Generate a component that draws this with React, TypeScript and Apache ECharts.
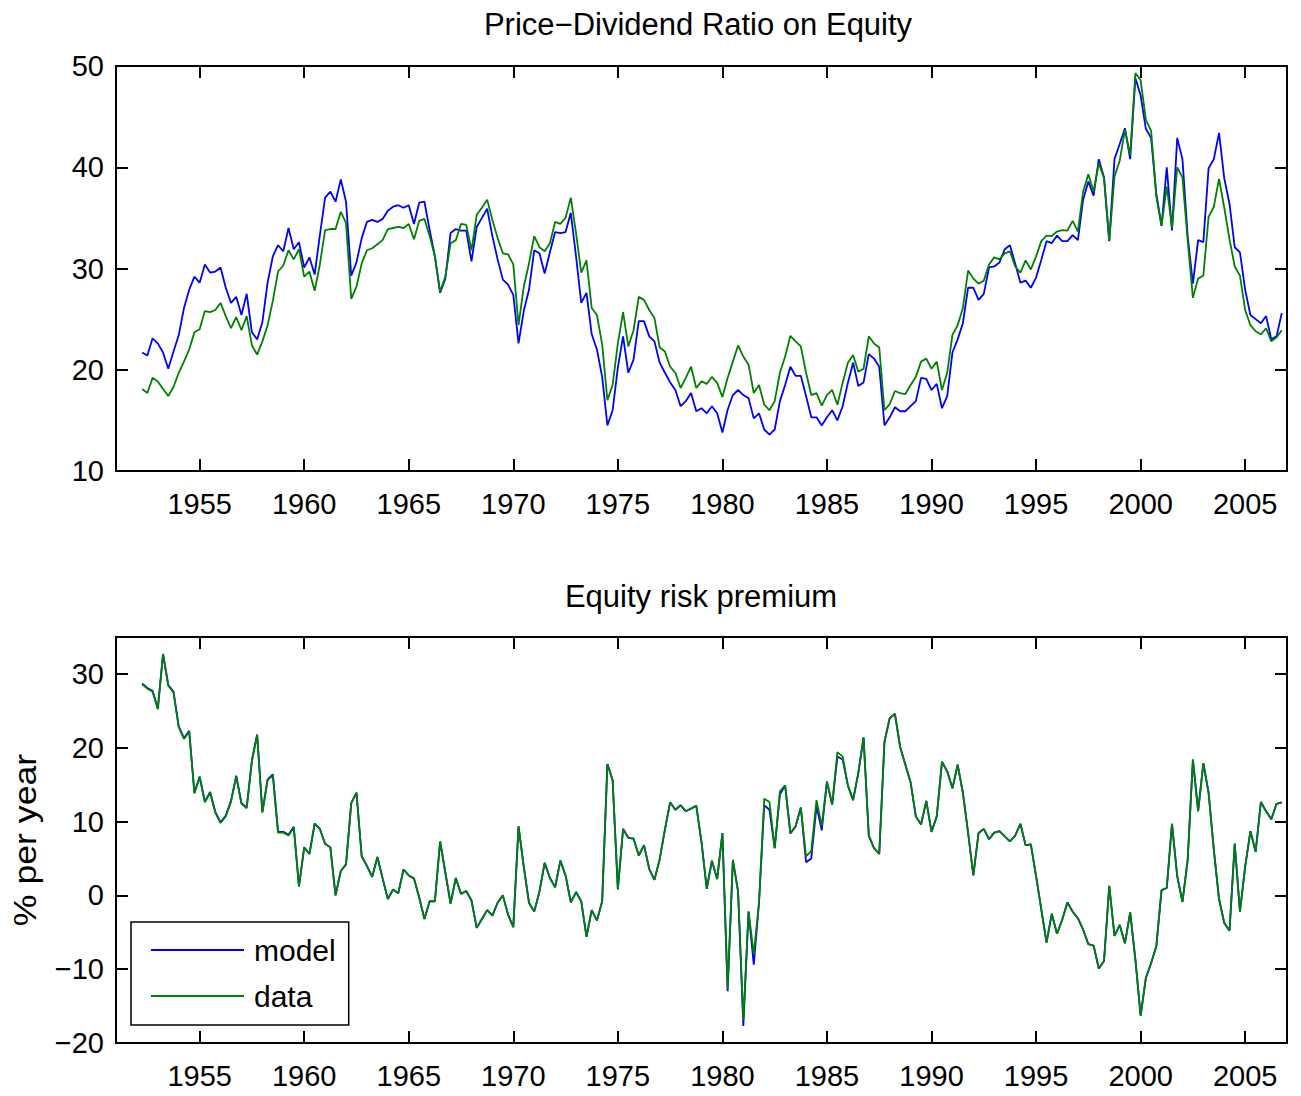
import React, { useEffect, useRef } from "react";
import * as echarts from "echarts";

const FIRST_QUARTER = 1952.25;
const QUARTER = 0.25;
const FONT = "'Liberation Sans', Arial, Helvetica, sans-serif";

const tickYears = [1955, 1960, 1965, 1970, 1975, 1980, 1985, 1990, 1995, 2000, 2005];
const pdTicks = [10, 20, 30, 40, 50];
const erpTicks = [-20, -10, 0, 10, 20, 30];
const seriesNames = ["model", "data"];

// Price-dividend ratio, quarterly from 1952Q2
const pdModel = [
  21.7, 21.4, 23.1, 22.6, 21.7, 20.1, 21.8, 23.4, 26.1, 27.9, 29.2, 28.6, 30.4, 29.6, 29.7, 30.1, 28.1, 26.6, 27.2, 25.4,
  27.5, 23.7, 23.0, 24.7, 28.6, 31.2, 32.3, 31.7, 34.0, 31.9, 32.6, 30.1, 31.1, 29.4, 33.3, 37.0, 37.6, 36.6, 38.8, 36.6,
  29.3, 30.6, 33.0, 34.6, 34.8, 34.6, 34.9, 35.7, 36.1, 36.25, 36.0, 36.25, 34.4, 36.5,
  36.6, 33.8, 31.2, 27.6, 29.0, 33.5, 33.9, 33.75, 33.75, 30.7, 34.1, 35.0, 35.9, 33.2, 30.9, 28.9, 28.4, 27.4, 22.6, 25.8,
  27.9, 31.8, 31.5, 29.5, 31.6, 33.6, 33.5, 33.6, 35.5, 31.2, 26.6, 27.6, 23.5, 22.0, 19.3, 14.5, 16.0, 20.2, 23.3, 19.7,
  21.0, 24.8, 24.8, 23.3, 22.8, 20.7, 19.7, 18.75, 18.0, 16.4, 16.9, 17.7, 15.9, 16.2, 15.7, 16.4, 15.7,
  13.8, 16.05, 17.5, 18.0, 17.5, 17.2, 15.2, 15.7, 14.1, 13.6, 14.1, 16.9, 18.5, 20.3, 19.4, 19.4, 17.4, 15.3, 15.3, 14.5,
  15.3, 16.0, 15.0, 16.4, 18.7, 20.7, 18.4, 18.75, 21.55, 21.1, 20.3, 14.5, 15.3, 16.3, 15.9, 15.9, 16.4, 16.9, 19.2, 19.1,
  18.0, 18.6, 16.2, 17.4, 21.7, 23.0, 24.6, 28.1, 28.1, 26.9, 27.5, 30.1, 30.2, 30.6, 31.9, 32.3,
  30.5, 28.6, 28.8, 28.1, 29.1, 30.85, 32.7, 32.5, 33.25, 32.7, 32.7, 33.3, 32.8, 36.8, 38.6, 37.2, 40.8, 39.0, 32.7, 40.8,
  42.3, 43.85, 40.8, 48.8, 47.1, 43.8, 42.9, 37.4, 34.2, 40.0, 33.75, 42.9, 40.8, 33.2, 28.5, 32.8, 32.6, 39.9, 40.8, 43.4,
  38.9, 36.4, 32.1, 31.6, 27.9, 25.4, 25.0, 24.6, 25.3, 23.0, 23.3, 25.6,
];

const pdData = [
  18.1, 17.7, 19.2, 18.85, 18.1, 17.4, 18.3, 19.7, 20.8, 22.0, 23.7, 24.0, 25.8, 25.7, 25.9, 26.6, 25.3, 24.1, 25.2, 23.9,
  25.3, 22.4, 21.5, 22.8, 24.4, 26.8, 29.7, 30.3, 31.8, 30.9, 31.9, 29.2, 29.7, 27.8, 30.4, 33.8, 33.9, 33.9, 35.6, 34.5,
  27.0, 28.2, 30.5, 31.8, 32.0, 32.4, 32.8, 33.9, 34.0, 34.1, 34.0, 34.4, 32.9, 34.7,
  34.9, 33.2, 31.2, 27.7, 29.2, 32.5, 32.8, 34.4, 34.3, 31.8, 35.3, 36.0, 36.8, 34.8, 33.0, 31.5, 31.4, 30.4, 24.4, 28.2,
  30.5, 33.2, 32.1, 31.7, 32.5, 34.6, 34.4, 35.0, 37.0, 33.5, 29.6, 30.8, 26.1, 25.4, 22.5, 17.0, 18.5, 22.6, 25.7, 22.3,
  23.9, 27.2, 26.9, 25.9, 25.1, 22.2, 21.8, 20.3, 19.7, 18.2, 19.2, 20.3, 18.2, 18.85, 18.6, 19.3, 18.7,
  17.3, 19.2, 20.8, 22.4, 21.3, 20.5, 17.7, 18.5, 16.55, 16.0, 16.9, 19.7, 21.3, 23.35, 22.8, 22.3, 19.7, 17.5, 17.7, 16.45,
  17.5, 18.0, 16.55, 18.7, 20.7, 21.45, 19.8, 20.1, 23.3, 22.6, 22.2, 16.0, 16.6, 17.9, 17.7, 17.6, 18.5, 19.3, 20.8, 21.1,
  20.1, 20.8, 18.0, 19.7, 23.45, 24.4, 26.1, 29.8, 29.0, 28.5, 28.8, 30.4, 31.1, 30.9, 31.5, 31.7,
  30.2, 29.6, 30.8, 29.9, 31.2, 32.7, 33.25, 33.2, 33.65, 33.8, 33.75, 34.7, 33.65, 37.6, 39.3, 37.6, 40.4, 38.9, 32.7, 39.1,
  40.65, 43.7, 41.2, 49.3, 48.6, 44.7, 43.6, 37.1, 34.2, 38.1, 34.0, 40.0, 39.0, 32.8, 27.1, 29.0, 29.3, 35.1, 36.1, 38.85,
  36.0, 32.9, 30.2, 29.3, 25.9, 24.4, 23.8, 23.5, 24.1, 22.8, 23.2, 23.9,
];

// Equity risk premium (% per year), quarterly from 1952Q2
const erpModel = [
  28.7, 28.1, 27.7, 25.3, 32.7, 28.5, 27.6, 22.9, 21.3, 22.3, 13.9, 16.1, 12.7, 14.0, 11.3, 9.9, 10.8, 12.8, 16.2, 12.5,
  11.9, 18.3, 21.8, 11.3, 15.7, 16.4, 8.6, 8.6, 8.2, 9.3, 1.2, 6.5, 5.6, 9.7, 9.0, 7.0, 6.5, 0.0, 3.3, 4.2,
  12.5, 13.9, 5.3, 4.0, 2.5, 5.2, 2.3, -0.5, 0.8, 0.3, 3.5, 2.7, 2.3, -0.3,
  -3.2, -0.8, -0.8, 7.3, 3.1, -1.1, 2.35, 0.2, 0.6, -0.7, -4.4, -3.2, -2.0, -2.75, -1.0, 0.0, -2.6, -4.3, 9.35, 3.9,
  -1.0, -2.2, 0.5, 4.4, 2.35, 1.1, 4.7, 2.7, -0.95, 0.45, -0.8, -5.6, -2.0, -3.4, -0.8, 17.8, 15.6, 0.8, 9.0, 7.8,
  7.7, 5.4, 6.8, 3.6, 2.1, 4.9, 8.9, 12.6, 11.6, 12.2, 11.4, 11.75, 12.15, 7.2, 0.9, 4.7, 2.2,
  8.45, -13.0, 4.8, 0.5, -17.7, -2.2, -9.4, -1.0, 12.2, 11.6, 6.4, 13.65, 14.9, 8.4, 9.35, 11.9, 4.5, 5.0, 12.1, 8.8,
  15.4, 12.3, 18.8, 18.4, 14.9, 12.9, 16.6, 21.4, 8.1, 6.4, 5.6, 20.8, 24.0, 24.6, 20.1, 17.7, 15.3, 10.7, 9.6, 12.8,
  8.6, 10.7, 18.1, 16.8, 14.5, 17.7, 13.9, 8.45, 2.7, 8.45, 9.0, 7.6, 8.5, 8.7, 8.0, 7.3,
  8.1, 9.7, 6.8, 6.9, 2.6, -1.9, -6.4, -2.5, -5.2, -3.3, -0.95, -2.2, -3.1, -4.65, -6.6, -6.8, -9.9, -8.9, 1.3, -5.5,
  -4.0, -6.5, -2.3, -8.7, -16.3, -11.2, -9.2, -6.9, 0.7, 1.0, 9.7, 2.6, -0.9, 4.8, 18.4, 11.4, 17.9, 13.9, 6.2, -0.5,
  -3.75, -4.8, 7.0, -2.2, 3.9, 8.7, 5.9, 12.65, 11.4, 10.3, 12.4, 12.6,
];

const erpData = [
  28.6, 28.0, 27.6, 25.2, 32.7, 28.4, 27.5, 22.8, 21.2, 22.2, 13.8, 16.0, 12.6, 13.9, 11.2, 9.8, 10.7, 12.7, 16.1, 12.4,
  11.8, 18.2, 21.7, 11.2, 15.6, 16.3, 8.5, 8.5, 8.1, 9.2, 1.2, 6.5, 5.6, 9.7, 9.0, 7.0, 6.5, 0.0, 3.3, 4.2,
  12.5, 13.9, 5.3, 4.0, 2.5, 5.2, 2.3, -0.5, 0.8, 0.3, 3.5, 2.7, 2.3, -0.3,
  -3.2, -0.8, -0.8, 7.3, 3.1, -1.1, 2.35, 0.2, 0.6, -0.7, -4.4, -3.2, -2.0, -2.75, -1.0, 0.0, -2.6, -4.3, 9.35, 3.9,
  -1.0, -2.2, 0.5, 4.4, 2.35, 1.1, 4.7, 2.7, -0.95, 0.45, -0.8, -5.6, -2.0, -3.4, -0.8, 17.8, 15.6, 0.8, 9.0, 7.8,
  7.7, 5.4, 6.8, 3.6, 2.1, 4.9, 8.9, 12.6, 11.6, 12.2, 11.4, 11.75, 12.15, 7.2, 0.9, 4.7, 2.2,
  8.45, -12.6, 4.8, 0.5, -16.9, -2.2, -8.0, -1.0, 13.1, 12.65, 6.4, 14.1, 14.9, 8.4, 9.35, 11.9, 5.3, 6.0, 12.9, 9.4,
  15.4, 12.3, 19.4, 18.8, 14.9, 12.9, 16.6, 21.4, 8.1, 6.4, 5.6, 20.8, 24.0, 24.6, 20.1, 17.7, 15.3, 10.7, 9.6, 12.8,
  8.6, 10.7, 18.1, 16.8, 14.5, 17.7, 13.9, 8.45, 2.7, 8.45, 9.0, 7.6, 8.5, 8.7, 8.0, 7.3,
  8.1, 9.7, 6.8, 6.9, 2.6, -1.9, -6.4, -2.5, -5.2, -3.3, -0.95, -2.2, -3.1, -4.65, -6.6, -6.8, -9.9, -8.9, 1.3, -5.5,
  -4.0, -6.5, -2.3, -8.7, -16.3, -11.2, -9.2, -6.9, 0.7, 1.0, 9.7, 2.6, -0.9, 4.8, 18.4, 11.4, 17.9, 13.9, 6.2, -0.5,
  -3.75, -4.8, 7.0, -2.2, 3.9, 8.7, 5.9, 12.65, 11.4, 10.3, 12.4, 12.6,
];

const toPairs = (vals: number[]) => vals.map((v, i) => [FIRST_QUARTER + i * QUARTER, v]);

const AXIS_COLOR = "#000";

function xAxis(gridIndex: number, position: "bottom" | "top") {
  return {
    type: "value",
    gridIndex,
    position,
    min: 1951,
    max: 2007,
    axisLine: { show: true, onZero: false, lineStyle: { color: AXIS_COLOR, width: 2 } },
    axisTick: {
      show: true,
      inside: true,
      length: 12,
      customValues: tickYears,
      lineStyle: { color: AXIS_COLOR, width: 2 },
    },
    axisLabel: {
      show: position === "bottom",
      customValues: tickYears,
      margin: 18,
      fontSize: 29,
      color: "#000",
      fontFamily: FONT,
      formatter: (v: number) => String(Math.round(v)),
    },
    splitLine: { show: false },
  };
}

function yAxis(gridIndex: number, position: "left" | "right", min: number, max: number, ticks: number[]) {
  return {
    type: "value",
    gridIndex,
    position,
    min,
    max,
    axisLine: { show: true, onZero: false, lineStyle: { color: AXIS_COLOR, width: 2 } },
    axisTick: {
      show: true,
      inside: true,
      length: 12,
      customValues: ticks,
      lineStyle: { color: AXIS_COLOR, width: 2 },
    },
    axisLabel: {
      show: position === "left",
      customValues: ticks,
      margin: 12,
      fontSize: 29,
      color: "#000",
      fontFamily: FONT,
      formatter: (v: number) => (v < 0 ? "\u2212" + Math.abs(v) : String(v)),
    },
    splitLine: { show: false },
  };
}

function lineSeries(name: string, vals: number[], color: string, axisIdx: number) {
  return {
    name,
    type: "line",
    xAxisIndex: axisIdx,
    yAxisIndex: axisIdx,
    data: toPairs(vals),
    symbol: "none",
    showSymbol: false,
    color,
    lineStyle: { color, width: 1.8 },
    emphasis: { disabled: true },
  };
}

export default function App() {
  const ref = useRef<HTMLDivElement>(null);

  useEffect(() => {
    if (!ref.current) return;
    const chart = echarts.init(ref.current, null, { renderer: "svg" });
    chart.setOption({
      animation: false,
      backgroundColor: "#fff",
      grid: [
        { left: 116, top: 66, width: 1171, height: 405, outerBoundsMode: "none", containLabel: false },
        { left: 116, top: 637, width: 1171, height: 406, outerBoundsMode: "none", containLabel: false },
      ],
      xAxis: [xAxis(0, "bottom"), xAxis(0, "top"), xAxis(1, "bottom"), xAxis(1, "top")],
      yAxis: [
        yAxis(0, "left", 10, 50, pdTicks),
        yAxis(0, "right", 10, 50, pdTicks),
        yAxis(1, "left", -20, 35, erpTicks),
        yAxis(1, "right", -20, 35, erpTicks),
      ],
      legend: {
        data: seriesNames,
        orient: "vertical",
        left: 131,
        top: 922,
        padding: [13, 13, 14, 19],
        itemWidth: 93,
        itemHeight: 30,
        itemGap: 16,
        backgroundColor: "#fff",
        borderColor: "#000",
        borderWidth: 1.5,
        borderRadius: 0,
        selectedMode: false,
        itemStyle: { opacity: 0, color: "rgba(0,0,0,0)", borderWidth: 0 },
        textStyle: { fontSize: 30, color: "#000", fontFamily: FONT, padding: [0, 0, 0, 5] },
      },
      graphic: [
        {
          type: "text",
          x: 698,
          y: 24,
          style: {
            text: "Price\u2212Dividend Ratio on Equity",
            font: `31px ${FONT}`,
            fill: "#000",
            align: "center",
            verticalAlign: "middle",
          },
        },
        {
          type: "text",
          x: 701,
          y: 596,
          style: {
            text: "Equity risk premium",
            font: `31px ${FONT}`,
            fill: "#000",
            align: "center",
            verticalAlign: "middle",
          },
        },
        {
          type: "text",
          x: 25,
          y: 840,
          rotation: Math.PI / 2,
          scaleX: 1.15,
          style: {
            text: "% per year",
            font: `31px ${FONT}`,
            fill: "#000",
            align: "center",
            verticalAlign: "middle",
          },
        },
      ],
      series: [
        lineSeries(seriesNames[0], pdModel, "#0000ff", 0),
        lineSeries(seriesNames[1], pdData, "#008000", 0),
        lineSeries(seriesNames[0], erpModel, "#0000ff", 2),
        lineSeries(seriesNames[1], erpData, "#008000", 2),
      ],
    });
    return () => chart.dispose();
  }, []);

  return (
    <div
      ref={ref}
      style={{ position: "absolute", left: 0, top: 0, width: 1301, height: 1096, background: "#fff" }}
    />
  );
}
